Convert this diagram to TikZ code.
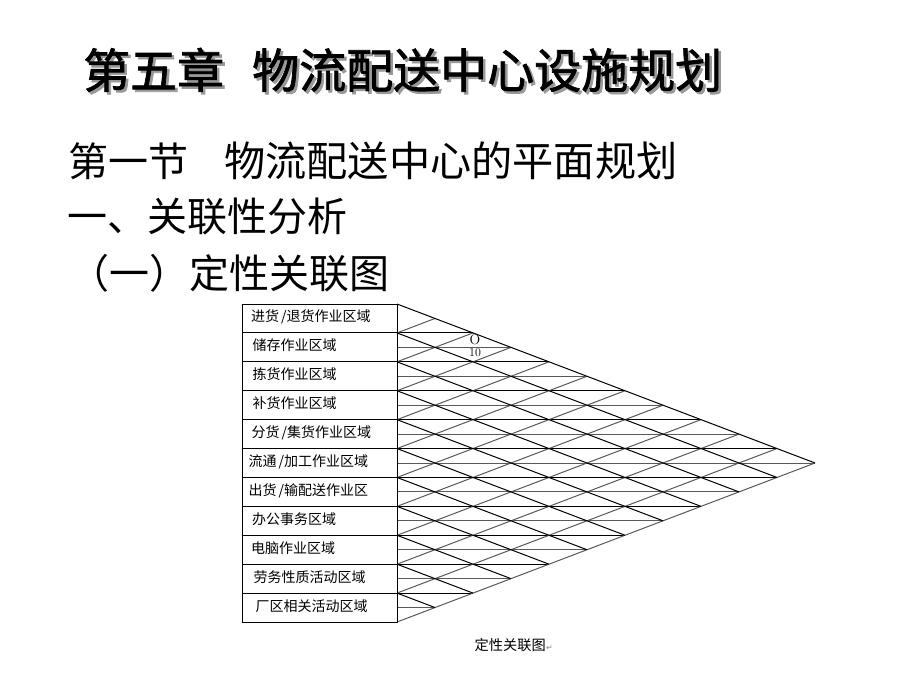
\documentclass[tikz,border=0pt]{standalone}
\usepackage{fontspec}
\newfontfamily\cjk{Noto Sans CJK SC}
\newfontfamily\cjkfb[FakeBold=1.6]{Noto Sans CJK SC}
\newfontfamily\djv{DejaVu Sans}
\begin{document}
\begin{tikzpicture}[x=1pt,y=-1pt,
  ttl/.style={font=\cjkfb\fontsize{47}{47}\selectfont, anchor=base west, inner sep=0pt},
  hd/.style={font=\cjk\fontsize{40}{40}\selectfont, anchor=base west, inner sep=0pt},
  lab/.style={font=\cjk\fontsize{14}{14}\selectfont, anchor=base west, inner sep=0pt},
  dk/.style={black, line width=1pt},
  lt/.style={black!65, line width=1pt}]
\useasboundingbox[fill=white] (0,0) rectangle (920,690);
\def\h{28.90909}
\def\hh{14.454545}
% title with shadow
\node[ttl, text=black!40] (t1s) at (85.5,90.5) {第五章};
\node[ttl, text=black!40] (t2s) at (254.5,90.5) {物流配送中心设施规划};
\node[ttl] (t1) at (83,88) {第五章};
\node[ttl] (t2) at (252,88) {物流配送中心设施规划};
% headings
\node[hd] (s1) at (68,176) {第一节};
\node[hd, font=\cjk\fontsize{41.2}{41.2}\selectfont] (s2) at (224,176) {物流配送中心的平面规划};
\node[hd] (s3) at (67,231) {一、关联性分析};
\node[hd] (s4) at (69,288) {（一）定性关联图};
% left edge coordinates
\foreach \k in {0,...,11} {\coordinate (L\k) at (397,{304+\k*\h});}
\coordinate (A) at (815,463);
% horizontal lines
\foreach \j in {2,...,21} {
  \pgfmathsetmacro\xe{\j<12 ? 397+38*\j : 397+38*(22-\j)}
  \ifodd\j
    \draw[lt] (397,{304+\j*\hh}) -- (\xe,{304+\j*\hh});
  \else
    \draw[dk] (242,{304+\j*\hh}) -- (\xe,{304+\j*\hh});
  \fi
}
% up-right diagonals
\foreach \k in {1,...,11} {
  \draw[lt] (L\k) -- ({397+38*\k},{304+\k*\hh});
}
% down-right diagonals
\foreach \k in {0,...,10} {
  \draw[dk] (L\k) -- ({397+38*(11-\k)},{304+(11+\k)*\hh});
}
% table frame
\draw[dk] (242,304) rectangle (397,622);
% labels
\node[lab] (r1) at (251,{304+0.5*\h+3.2}) {进货\kern2pt/退货作业区域};
\node[lab] (r2) at (252.5,{304+1.5*\h+3.6}) {储存作业区域};
\node[lab] (r3) at (252.5,{304+2.5*\h+3.6}) {拣货作业区域};
\node[lab] (r4) at (252.5,{304+3.5*\h+3.6}) {补货作业区域};
\node[lab] (r5) at (251.5,{304+4.5*\h+3.6}) {分货\kern2pt/集货作业区域};
\node[lab] (r6) at (248.5,{304+5.5*\h+3.6}) {流通\kern2pt/加工作业区域};
\node[lab] (r7) at (248.5,{304+6.5*\h+3.6}) {出货\kern2pt/输配送作业区};
\node[lab] (r8) at (252,{304+7.5*\h+3.6}) {办公事务区域};
\node[lab] (r9) at (251,{304+8.5*\h+3.6}) {电脑作业区域};
\node[lab] (r10) at (253.5,{304+9.5*\h+3.6}) {劳务性质活动区域};
\node[lab] (r11) at (255.5,{304+10.5*\h+3.6}) {厂区相关活动区域};
% relation mark
\node[font=\fontsize{14}{14}\selectfont, inner sep=0pt] (o) at (475,339.5) {O};
\node[font=\fontsize{12}{12}\selectfont, inner sep=0pt] (ten) at (475,353) {10};
% caption
\node[lab, font=\cjk\fontsize{14.2}{14.2}\selectfont] (cap) at (474.5,650.4) {定性关联图};
\node[anchor=base west, inner sep=0pt, font=\djv\fontsize{8}{8}\selectfont, text=black!45] (ret) at (cap.base east) {↵};
\end{tikzpicture}
\end{document}
